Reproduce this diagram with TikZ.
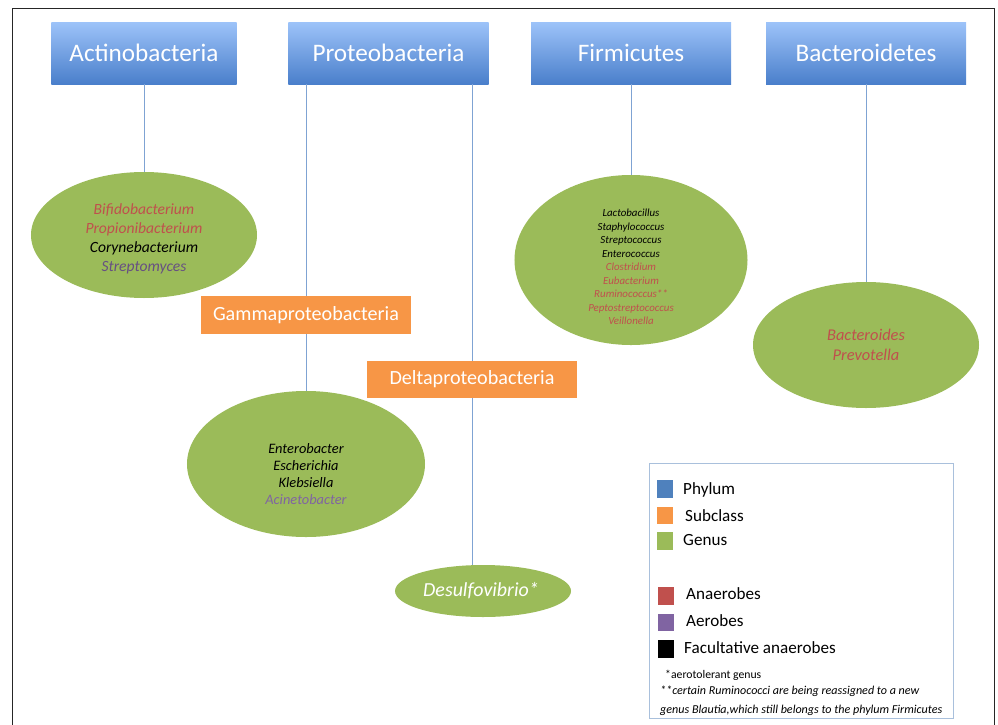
\documentclass[tikz,border=0pt]{standalone}
\usepackage{fontspec}
\setmainfont{Carlito}
\usetikzlibrary{shapes.geometric}

\definecolor{phylumtop}{HTML}{9DC3F9}
\definecolor{phylumbot}{HTML}{4A7FCB}
\definecolor{phylum}{HTML}{4F81BD}
\definecolor{subclass}{HTML}{F79646}
\definecolor{genus}{HTML}{9BBB59}
\definecolor{anaer}{HTML}{C0504D}
\definecolor{aer}{HTML}{8064A2}
\definecolor{linkblue}{HTML}{7FA3D3}
\definecolor{legendline}{HTML}{A9C0DC}

\begin{document}
\begin{tikzpicture}
        [
            x = 0.03cm, y = -0.03cm,
            phylumbox/.style = {rectangle, top color = phylumtop, bottom color = phylumbot,
                text = white, minimum height = 1.86cm, inner sep = 0pt,
                font = \fontsize{21.5}{24}\selectfont},
            subbox/.style = {rectangle, fill = subclass, text = white, inner sep = 0pt,
                minimum width = 6.3cm, minimum height = 1.12cm,
                font = \fontsize{17.2}{20}\selectfont},
            genusell/.style = {ellipse, fill = genus, inner sep = 0pt},
            genustext/.style = {align = center, inner sep = 0pt},
            link/.style = {draw = linkblue, line width = 0.6pt},
            key/.style = {rectangle, minimum width = 0.48cm, minimum height = 0.52cm, inner sep = 0pt},
            keytext/.style = {anchor = west, inner sep = 0pt, font = \fontsize{14.6}{17}\selectfont}
        ]

        \useasboundingbox (0,0) rectangle (998,725);
        \draw [line width = 1.2pt, black!85] (12.5,725) -- (12.5,8.5) -- (994.5,8.5) -- (994.5,725);

        % phyla
        \node [phylumbox, minimum width = 5.55cm] (actino) at (144,53) {Actinobacteria};
        \node [phylumbox, minimum width = 6cm] (proteo) at (388.5,53) {Proteobacteria};
        \node [phylumbox, minimum width = 6cm] (firmi) at (631,53) {Firmicutes};
        \node [phylumbox, minimum width = 6cm] (bactero) at (866,53) {Bacteroidetes};

        % subclasses
        \node [subbox] (gamma) at (306,315) {Gammaproteobacteria};
        \node [subbox] (delta) at (472,379.5) {Deltaproteobacteria};

        % genera
        \node [genusell, minimum width = 6.78cm, minimum height = 3.78cm] (actgen) at (144,235) {};
        \node [genustext, font = \fontsize{13.3}{16.2}\selectfont\itshape]
            (actgentext) at ([yshift = -0.12cm] actgen.center)
            {\textcolor{anaer}{Bifidobacterium}\\ \textcolor{anaer}{Propionibacterium}\\
             Corynebacterium\\ \textcolor{aer!80!black}{Streptomyces}};
        \node [genusell, minimum width = 6.99cm, minimum height = 5.1cm] (firmgen) at (631,260) {};
        \node [genustext, font = \fontsize{9.3}{11.5}\selectfont\itshape]
            (firmgentext) at ([yshift = -0.21cm] firmgen.center)
            {Lactobacillus\\ Staphylococcus\\ Streptococcus\\ Enterococcus\\
             \textcolor{anaer}{Clostridium}\\ \textcolor{anaer}{Eubacterium}\\
             \textcolor{anaer}{Ruminococcus**}\\ \textcolor{anaer}{Peptostreptococcus}\\
             \textcolor{anaer}{Veillonella}};
        \node [genusell, minimum width = 7.14cm, minimum height = 4.38cm] (entero) at (306,464) {};
        \node [genustext, font = \fontsize{12.3}{14.5}\selectfont\itshape]
            (enterotext) at ([yshift = -0.3cm] entero.center)
            {Enterobacter\\ Escherichia\\ Klebsiella\\ \textcolor{aer}{Acinetobacter}};
        \node [genusell, minimum width = 5.28cm, minimum height = 1.56cm] (desulfo) at (483,591) {};
        \node [genustext, text = white, font = \fontsize{17}{20}\selectfont\itshape]
            (desulfotext) at ([xshift = -0.06cm] desulfo.center) {Desulfovibrio*};
        \node [genusell, minimum width = 6.78cm, minimum height = 3.78cm] (bactgen) at (866,345) {};
        \node [genustext, text = anaer, font = \fontsize{14}{17}\selectfont\itshape]
            (bactgentext) at (bactgen.center) {Bacteroides\\ Prevotella};

        % connectors
        \draw [link] (actino.south) -- (actgen.north);
        \draw [link] (gamma.north) -- (gamma.north |- proteo.south);
        \draw [link] (gamma.south) -- (entero.north);
        \draw [link] (delta.north) -- (delta.north |- proteo.south);
        \draw [link] (delta.south) -- (delta.south |- desulfo.north);
        \draw [link] (firmi.south) -- (firmgen.north);
        \draw [link] (bactero.south) -- (bactgen.north);

        % legend
        \node [draw = legendline, line width = 0.6pt, anchor = north west,
            minimum width = 9.12cm, minimum height = 7.65cm] (legend) at (649,463) {};
        \node [key, fill = phylum] (kphylum) at (665,489) {};
        \node [keytext] at (683,490) {Phylum};
        \node [key, fill = subclass] (ksub) at (665,515.5) {};
        \node [keytext] at (685,516) {Subclass};
        \node [key, fill = genus] (kgenus) at (665,541) {};
        \node [keytext] at (683,540) {Genus};
        \node [key, fill = anaer] (kanaer) at (666,596) {};
        \node [keytext] at (686,594) {Anaerobes};
        \node [key, fill = aer] (kaer) at (666,622.5) {};
        \node [keytext] at (686,621) {Aerobes};
        \node [key, fill = black] (kfac) at (666,649) {};
        \node [keytext] at (684,648) {Facultative anaerobes};
        \node [anchor = west, inner sep = 0pt, font = \fontsize{10}{12}\selectfont]
            (note1) at (665,675) {*aerotolerant genus};
        \node [anchor = north west, inner sep = 0pt, align = left,
            font = \fontsize{10.3}{16.2}\selectfont\itshape]
            (note2) at (660,686) {**certain Ruminococci are being reassigned to a new\\
            genus Blautia,which still belongs to the phylum Firmicutes};
    \end{tikzpicture}
\end{document}
